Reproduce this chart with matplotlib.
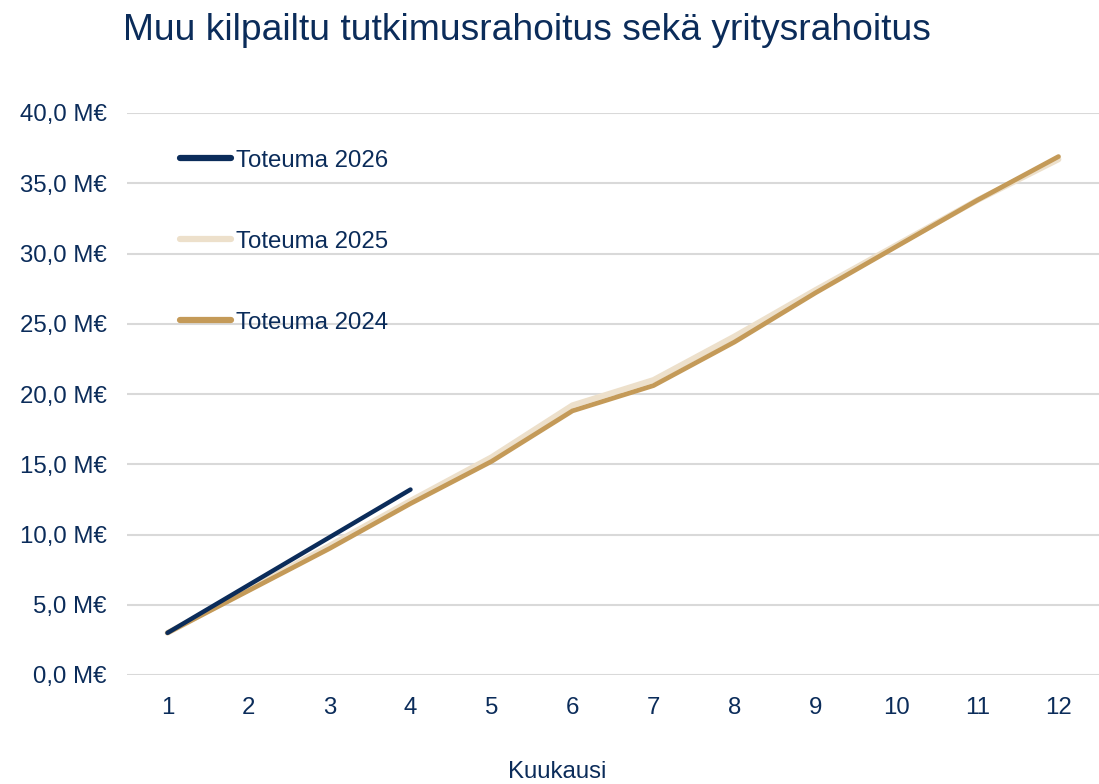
import numpy as np
import matplotlib.pyplot as plt
from matplotlib.ticker import FuncFormatter

plt.rcParams['font.family'] = ['Liberation Sans', 'DejaVu Sans']

# data (M€ cumulative per month)
months = [1, 2, 3, 4, 5, 6, 7, 8, 9, 10, 11, 12]
toteuma_2026 = [3.0, 6.4, 9.8, 13.2]
toteuma_2025 = [3.0, 6.1, 9.2, 12.4, 15.5, 19.2, 21.0, 24.1, 27.4, 30.6, 33.8, 36.7]
toteuma_2024 = [3.0, 6.0, 9.0, 12.2, 15.2, 18.8, 20.6, 23.7, 27.2, 30.5, 33.8, 36.9]

navy = '#0B2C5A'
beige = '#EDE0CB'
gold = '#C49A58'
grid_col = '#D9D9D9'

fig = plt.figure(figsize=(10.99, 7.84), dpi=100)
ax = fig.add_axes([127 / 1099, 1 - 675 / 784, 1 - 127 / 1099, (675 - 113) / 784])

ax.plot(months, toteuma_2025, color=beige, linewidth=4.2, solid_capstyle='round',
        label='Toteuma 2025', zorder=2)
ax.plot(months, toteuma_2024, color=gold, linewidth=3.4, solid_capstyle='round',
        label='Toteuma 2024', zorder=3)
ax.plot(months[:len(toteuma_2026)], toteuma_2026, color=navy, linewidth=3.2,
        solid_capstyle='round', label='Toteuma 2026', zorder=4)

ax.set_xlim(0.5, 12.5)
ax.set_ylim(0, 40)
ax.set_yticks(np.arange(0, 40.1, 5))
ax.set_xticks(months)
ax.yaxis.set_major_formatter(FuncFormatter(lambda v, p: ('%.1f M€' % v).replace('.', ',')))
ax.grid(axis='y', color=grid_col, linewidth=1.5)
ax.set_axisbelow(True)
for s in ax.spines.values():
    s.set_visible(False)
ax.tick_params(length=0, labelsize=17.3, labelcolor=navy)
ax.tick_params(axis='y', pad=14.5)
ax.tick_params(axis='x', pad=16)

fig.text(557 / 1099, 6 / 784, 'Kuukausi', fontsize=17.3, color=navy,
         ha='center', va='baseline')
fig.text(123 / 1099, 1 - 30 / 784, 'Muu kilpailtu tutkimusrahoitus sekä yritysrahoitus',
         fontsize=26.8, color=navy, ha='left', va='center')

h, l = ax.get_legend_handles_labels()
order = [2, 0, 1]
leg = ax.legend([h[i] for i in order], [l[i] for i in order], frameon=False,
                loc='upper left', bbox_to_anchor=(0.032, 0.973), fontsize=17.3,
                labelcolor=navy, handlelength=2.15, handletextpad=0.2, labelspacing=2.45)
for line in leg.get_lines():
    line.set_linewidth(4.5)

fig.savefig('out.png', dpi=100)
